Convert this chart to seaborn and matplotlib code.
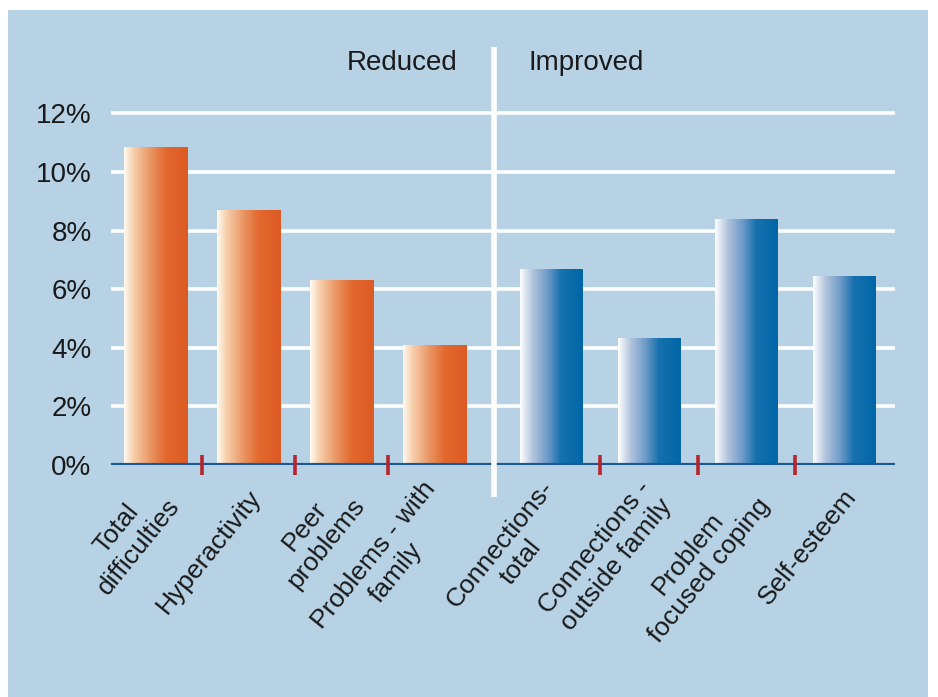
"""
Bar chart: share of children with reduced difficulties / improved outcomes
"""

import numpy as np
import pandas as pd
import matplotlib
matplotlib.use("Agg")
import matplotlib.pyplot as plt
import matplotlib.transforms as mtransforms
from matplotlib.colors import LinearSegmentedColormap
from matplotlib.patches import Rectangle
import seaborn as sns

# ============================================================================
# DATA
# ============================================================================
categories = [
    "Total\ndifficulties",
    "Hyperactivity",
    "Peer\nproblems",
    "Problems - with\nfamily",
    "Connections-\ntotal",
    "Connections -\noutside family",
    "Problem\nfocused coping",
    "Self-esteem",
]
values = [10.85, 8.7, 6.3, 4.1, 6.7, 4.35, 8.4, 6.45]
groups = ["Reduced"] * 4 + ["Improved"] * 4
group_order = ["Reduced", "Improved"]
y_ticks = [0, 2, 4, 6, 8, 10, 12]
y_tick_labels = ["0%", "2%", "4%", "6%", "8%", "10%", "12%"]

df = pd.DataFrame({"category": categories, "value": values, "group": groups})

# ============================================================================
# STYLE
# ============================================================================
PANEL = "#b7d2e5"
AXIS_BLUE = "#1b5896"
TICK_RED = "#b5262e"
TEXT = "#1a1a1a"

sns.set_style("white")
plt.rcParams["font.family"] = ["Liberation Sans", "DejaVu Sans"]

gradients = {
    "Reduced": LinearSegmentedColormap.from_list(
        "orange_grad",
        [(0.0, "#fffaf2"), (0.15, "#f7cfac"), (0.4, "#ea9866"),
         (0.65, "#e2692f"), (1.0, "#dd5a23")]),
    "Improved": LinearSegmentedColormap.from_list(
        "blue_grad",
        [(0.0, "#ffffff"), (0.2, "#b2c4dc"), (0.45, "#6a98c6"),
         (0.65, "#1671ae"), (1.0, "#0066a6")]),
}
palette = {"Reduced": "#dd5a23", "Improved": "#0066a6"}

W, H = 938, 697
fig = plt.figure(figsize=(W / 100, H / 100), dpi=100, facecolor="white")
fig.patches.append(Rectangle((8 / W, 0), 920 / W, 1 - 10 / H,
                             transform=fig.transFigure, facecolor=PANEL,
                             edgecolor="none", zorder=-10))

# two panels (left: reduced, right: improved), divider between them
X_LEFT, X_DIV, X_RIGHT = 111, 494, 895
Y_BOTTOM, Y_TOP = 465, 84
axes_box = {
    "Reduced": [X_LEFT / W, 1 - Y_BOTTOM / H, (X_DIV - X_LEFT) / W, (Y_BOTTOM - Y_TOP) / H],
    "Improved": [X_DIV / W, 1 - Y_BOTTOM / H, (X_RIGHT - X_DIV) / W, (Y_BOTTOM - Y_TOP) / H],
}
xlims = {"Reduced": (-0.485, 3.646), "Improved": (-0.59, 3.523)}
bar_w = {"Reduced": 0.68, "Improved": 0.646}
YLIM = (0, 13)

grad = np.linspace(0, 1, 256).reshape(1, -1)
offset = mtransforms.ScaledTranslation(8 / 100, 0, fig.dpi_scale_trans)
axes = {}

for grp in group_order:
    ax = fig.add_axes(axes_box[grp])
    ax.set_facecolor("none")
    sub = df[df["group"] == grp]
    sns.barplot(data=sub, x="category", y="value", color=palette[grp],
                width=bar_w[grp], ax=ax)

    # gradient fill for each bar
    for bar in ax.patches:
        x0, y0 = bar.get_x(), bar.get_y()
        w, h = bar.get_width(), bar.get_height()
        if np.isnan(h) or h == 0:
            continue
        img = ax.imshow(grad, extent=[x0, x0 + w, y0, y0 + h], aspect="auto",
                        cmap=gradients[grp], zorder=2, interpolation="bilinear")
        img.set_clip_path(bar)
        bar.set_facecolor("none")
        bar.set_edgecolor("none")

    ax.set_xlim(*xlims[grp])
    ax.set_ylim(*YLIM)
    ax.set_yticks(y_ticks)
    ax.yaxis.grid(True, color="white", linewidth=2.6)
    ax.set_axisbelow(True)
    ax.tick_params(axis="both", length=0)
    ax.tick_params(axis="x", pad=20)
    for s in ax.spines.values():
        s.set_visible(False)
    ax.set_xlabel("")
    ax.set_ylabel("")

    # baseline and red separators between bars
    ax.axhline(0, color=AXIS_BLUE, linewidth=3, zorder=4)
    for i in range(len(sub) - 1):
        ax.plot([i + 0.5, i + 0.5], [-0.34, 0.34], color=TICK_RED,
                linewidth=2.6, zorder=5, clip_on=False, solid_capstyle="butt")

    # x labels
    ax.set_xticks(range(len(sub)))
    ax.set_xticklabels(sub["category"], fontsize=19, color=TEXT, rotation=51,
                       ha="right", va="center", rotation_mode="anchor",
                       multialignment="center")
    for lbl in ax.get_xticklabels():
        lbl.set_transform(lbl.get_transform() + offset)
    axes[grp] = ax

ax_l, ax_r = axes["Reduced"], axes["Improved"]
ax_l.set_yticklabels(y_tick_labels, fontsize=20, color=TEXT)
ax_l.tick_params(axis="y", pad=14)
ax_r.set_yticklabels([])

# white divider and group titles
ax_r.plot([xlims["Improved"][0]] * 2, [-1.1, 14.25], color="white",
          linewidth=4, zorder=6, clip_on=False, solid_capstyle="butt")
ax_l.text(xlims["Reduced"][1] - 0.39, 13.72, "Reduced", ha="right",
          va="center", fontsize=20, color=TEXT)
ax_r.text(xlims["Improved"][0] + 0.35, 13.72, "Improved", ha="left",
          va="center", fontsize=20, color=TEXT)

fig.savefig("out.png", dpi=100, facecolor="white")
